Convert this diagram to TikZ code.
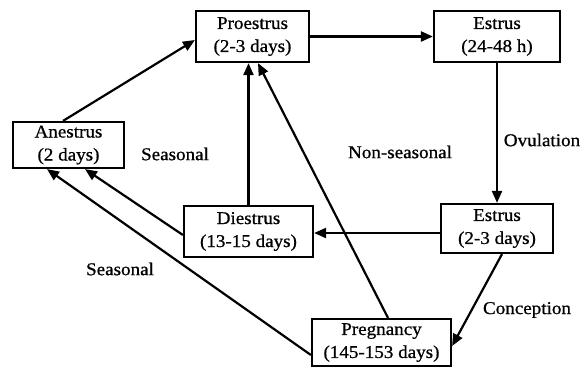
\documentclass[tikz,border=0pt]{standalone}
\usepackage{fontspec}
\setmainfont{Liberation Serif}[FakeBold=0.8,FakeStretch=1.06]
\usetikzlibrary{arrows.meta}
\begin{document}
\begin{tikzpicture}[x=1pt,y=-1pt,
  box/.style={draw,line width=2.2pt,inner sep=0pt,align=center,font=\fontsize{18}{23}\selectfont},
  lbl/.style={inner sep=0pt,font=\fontsize{18}{23}\selectfont},
  arr/.style={line width=2.2pt,-{Triangle[length=12pt,width=10pt]}}]
\useasboundingbox (0,0) rectangle (586,368);
\node[box,minimum width=113pt,minimum height=51pt] (pr) at (252.5,36.5) {Proestrus\\(2-3 days)};
\node[box,minimum width=126pt,minimum height=51pt] (et) at (497,36.5) {Estrus\\(24-48 h)};
\node[box,minimum width=111pt,minimum height=46pt] (an) at (68.5,145) {Anestrus\\(2 days)};
\node[box,minimum width=129pt,minimum height=51pt] (di) at (248.5,231.5) {Diestrus\\(13-15 days)};
\node[box,minimum width=112pt,minimum height=49pt] (eb) at (497,228.5) {Estrus\\(2-3 days)};
\node[box,minimum width=139pt,minimum height=47pt] (pg) at (381.5,342.5) {Pregnancy\\(145-153 days)};
\node[lbl] (s1) at (175,154) {Seasonal};
\node[lbl] (ns) at (400,152) {Non-seasonal};
\node[lbl] (ov) at (542,140) {Ovulation};
\node[lbl] (s2) at (120,269) {Seasonal};
\node[lbl] (co) at (527,310) {Conception};
\draw[arr] ([xshift=-5.5pt]an.north) -- ([yshift=-3.5pt]pr.west);
\draw[arr] (pr.east) -- (pr.east -| et.west);
\draw[arr] (et.south) -- (eb.north);
\draw[arr] ([yshift=-4.5pt]eb.west) -- ([yshift=-4.5pt]eb.west -| di.east);
\draw[arr] (di.north) -- (di.north |- pr.south);
\draw[arr] ([yshift=-3.5pt]di.west) -- ([xshift=16.5pt]an.south);
\draw[arr] ([yshift=-12.5pt]pg.west) -- ([xshift=-21.5pt]an.south);
\draw[arr] ([xshift=6.5pt]pg.north) -- ([xshift=5.5pt]pr.south);
\draw[arr] ([xshift=5pt]eb.south) -- ([yshift=-3.5pt]pg.east);
\end{tikzpicture}
\end{document}
